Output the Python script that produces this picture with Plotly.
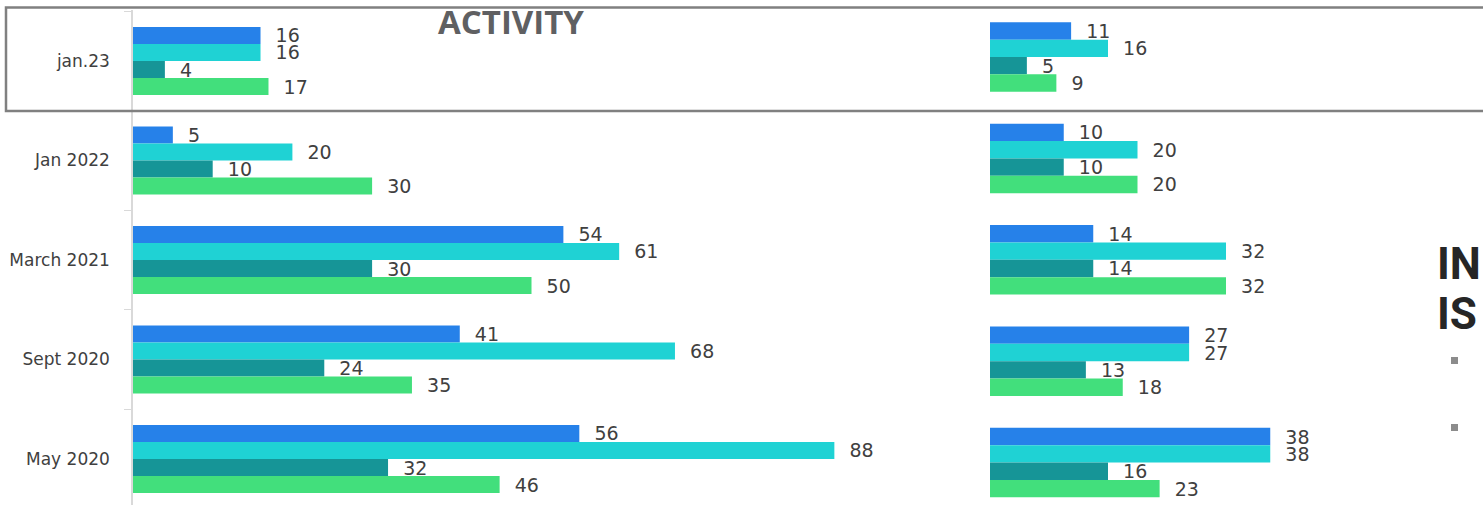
import plotly.graph_objects as go

categories = ["jan.23", "Jan 2022", "March 2021", "Sept 2020", "May 2020"]
series_names = ["Series 1", "Series 2", "Series 3", "Series 4"]
colors = ["#2681e9", "#1fd2d4", "#169597", "#42df7c"]

left_values = [
    [16, 5, 54, 41, 56],
    [16, 20, 61, 68, 88],
    [4, 10, 30, 24, 32],
    [17, 30, 50, 35, 46],
]
right_values = [
    [11, 10, 14, 27, 38],
    [16, 20, 32, 27, 38],
    [5, 10, 14, 13, 16],
    [9, 20, 32, 18, 23],
]

W, H = 1483, 505
FONT = "DejaVu Sans"
LABEL_COLOR = "#404040"

fig = go.Figure()
for i in range(4):
    fig.add_trace(go.Bar(
        y=categories, x=left_values[i], orientation="h", name=series_names[i],
        marker=dict(color=colors[i], line=dict(width=0)),
        texttemplate="\u00a0\u00a0%{x}", textposition="outside",
        textfont=dict(family=FONT, size=19, color=LABEL_COLOR),
        cliponaxis=False, constraintext="none", showlegend=False,
        xaxis="x", yaxis="y",
    ))
for i in range(4):
    fig.add_trace(go.Bar(
        y=categories, x=right_values[i], orientation="h", name=series_names[i],
        marker=dict(color=colors[i], line=dict(width=0)),
        texttemplate="\u00a0\u00a0%{x}", textposition="outside",
        textfont=dict(family=FONT, size=19, color=LABEL_COLOR),
        cliponaxis=False, constraintext="none", showlegend=False,
        xaxis="x2", yaxis="y2",
    ))

def px_x(p):
    return p / W

def px_y(p):
    return 1 - p / H

# left y: category 0 at y=61px, spacing 99.5px, top of domain at 10px
ly_top = (10 - 61) / 99.5
ly_bot = (505 - 61) / 99.5
# right y: category 0 at 57px, spacing 101.4px
ry_top = (0 - 57) / 101.4
ry_bot = (505 - 57) / 101.4

fig.update_layout(
    width=W, height=H,
    margin=dict(l=0, r=0, t=0, b=0),
    paper_bgcolor="white", plot_bgcolor="white",
    barmode="group", bargap=0.315, bargroupgap=0,
    font=dict(family=FONT, color=LABEL_COLOR),
    xaxis=dict(domain=[px_x(133), px_x(133 + 797)], range=[0, 100],
               visible=False, showgrid=False, zeroline=False),
    yaxis=dict(domain=[0, px_y(10)], type="category",
               categoryorder="array", categoryarray=categories,
               range=[ly_bot, ly_top],
               showline=True, linecolor="#d9d9d9", linewidth=1.5,
               ticks="outside", tickson="boundaries", ticklen=7,
               tickcolor="#d9d9d9", tickwidth=1,
               showgrid=False, zeroline=False,
               tickfont=dict(family=FONT, size=17, color=LABEL_COLOR),
               ticklabelstandoff=18),
    xaxis2=dict(domain=[px_x(990), px_x(990 + 442.5)], range=[0, 60],
                visible=False, showgrid=False, zeroline=False, anchor="y2"),
    yaxis2=dict(domain=[0, 1], type="category", anchor="x2",
                categoryorder="array", categoryarray=categories,
                range=[ry_bot, ry_top], visible=False, showgrid=False),
    shapes=[
        dict(type="rect", xref="paper", yref="paper",
             x0=px_x(6), x1=1.01, y0=px_y(111), y1=px_y(7.5),
             line=dict(color="#808080", width=2.5), fillcolor="rgba(0,0,0,0)",
             layer="above"),
        dict(type="rect", xref="paper", yref="paper",
             x0=px_x(1451), x1=px_x(1458), y0=px_y(364), y1=px_y(357),
             line=dict(width=0), fillcolor="#8c8c8c"),
        dict(type="rect", xref="paper", yref="paper",
             x0=px_x(1451), x1=px_x(1458), y0=px_y(431), y1=px_y(424),
             line=dict(width=0), fillcolor="#8c8c8c"),
    ],
    annotations=[
        dict(text="<b>ACTIVITY</b>", xref="paper", yref="paper",
             x=px_x(511), y=px_y(21), xanchor="center", yanchor="middle",
             showarrow=False, font=dict(family="Open Sans", size=33, color="#5f6062")),
        dict(text="<b>IN</b>", xref="paper", yref="paper",
             x=px_x(1435), y=px_y(264), xanchor="left", yanchor="middle",
             showarrow=False, font=dict(family="Roboto", size=44, color="#262626")),
        dict(text="<b>IS</b>", xref="paper", yref="paper",
             x=px_x(1435), y=px_y(314), xanchor="left", yanchor="middle",
             showarrow=False, font=dict(family="Roboto", size=44, color="#262626")),
    ],
)

fig.write_html(
    "out.html",
    config={"displayModeBar": False},
    post_script="document.body.style.margin='0';document.body.style.overflow='hidden';",
)
